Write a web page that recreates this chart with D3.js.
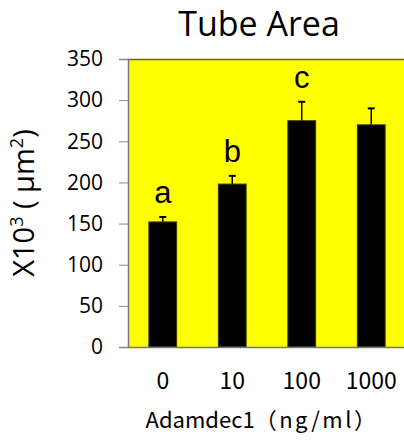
<!DOCTYPE html>
<html>
<head>
<meta charset="utf-8">
<script src="https://cdn.jsdelivr.net/npm/d3@7"></script>
<style>
  body { margin: 0; background: #fff; }
  svg { display: block; }
</style>
</head>
<body>
<div id="chart"></div>
<script>
// values
var doses = ["0", "10", "100", "1000"];
var means = [152, 198, 275, 270];
var errs = [6, 10, 23, 20];
var letters = ["a", "b", "c", ""];
var yTicks = [0, 50, 100, 150, 200, 250, 300, 350];

var W = 404, H = 441;
var margin = {top: 59, right: -2, bottom: 94, left: 128};
var width = W - margin.left - margin.right;
var height = H - margin.top - margin.bottom;

var svg = d3.select("#chart").append("svg")
    .attr("width", W)
    .attr("height", H);

var g = svg.append("g")
    .attr("transform", "translate(" + margin.left + "," + margin.top + ")");

var x = d3.scaleBand().domain(doses).range([0, width])
    .paddingInner(0.6).paddingOuter(0.3);
var y = d3.scaleLinear().domain([0, 350]).range([height, 0]);

// yellow plot area
g.append("rect")
    .attr("width", width)
    .attr("height", height)
    .attr("fill", "#ffff00");
g.append("line")
    .attr("x1", 0).attr("x2", width)
    .attr("y1", 0.5).attr("y2", 0.5)
    .attr("stroke", "#6b6b00")
    .attr("stroke-width", 1.5);

// error bars
var eb = g.append("g").selectAll("g")
    .data(doses)
    .enter().append("g");
eb.append("line")
    .attr("x1", function(d) { return x(d) + x.bandwidth() / 2; })
    .attr("x2", function(d) { return x(d) + x.bandwidth() / 2; })
    .attr("y1", function(d, i) { return y(means[i]); })
    .attr("y2", function(d, i) { return y(means[i] + errs[i]); })
    .attr("stroke", "#000").attr("stroke-width", 1.5);
eb.append("line")
    .attr("x1", function(d) { return x(d) + x.bandwidth() / 2 - 3.5; })
    .attr("x2", function(d) { return x(d) + x.bandwidth() / 2 + 3.5; })
    .attr("y1", function(d, i) { return y(means[i] + errs[i]); })
    .attr("y2", function(d, i) { return y(means[i] + errs[i]); })
    .attr("stroke", "#000").attr("stroke-width", 2);

// bars
g.append("g").selectAll("rect")
    .data(doses)
    .enter().append("rect")
    .attr("x", function(d) { return x(d); })
    .attr("y", function(d, i) { return y(means[i]); })
    .attr("width", x.bandwidth())
    .attr("height", function(d, i) { return height - y(means[i]); })
    .attr("fill", "#000")
    .attr("stroke", "#3a3a00")
    .attr("stroke-width", 1);

// significance letters
g.append("g").selectAll("text")
    .data(doses)
    .enter().append("text")
    .attr("x", function(d) { return x(d) + x.bandwidth() / 2; })
    .attr("y", function(d, i) { return y(means[i] + errs[i]) - 14; })
    .attr("text-anchor", "middle")
    .style("font-family", "Liberation Sans, Arial, sans-serif")
    .style("font-size", "31px")
    .text(function(d, i) { return letters[i]; });

// y axis
var yAxis = g.append("g")
    .call(d3.axisLeft(y).tickValues(yTicks).tickSize(9).tickPadding(16));
yAxis.select(".domain").attr("stroke", "#777").attr("stroke-width", 1.5);
yAxis.selectAll(".tick line").attr("stroke", "#888");
yAxis.selectAll("text")
    .style("font-family", "Open Sans, sans-serif")
    .style("font-size", "21px")
    .attr("fill", "#000");

// x axis
var xAxis = g.append("g")
    .attr("transform", "translate(0," + height + ")")
    .call(d3.axisBottom(x).tickSize(0).tickPadding(26));
xAxis.select(".domain").attr("stroke", "#777").attr("stroke-width", 1.5);
xAxis.selectAll("text")
    .style("font-family", "Noto Sans CJK JP, sans-serif")
    .style("font-size", "23px")
    .attr("fill", "#000");

// title and axis titles
svg.append("text")
    .attr("x", 259).attr("y", 36)
    .attr("text-anchor", "middle")
    .style("font-family", "Open Sans, sans-serif")
    .style("font-size", "34px")
    .text("Tube Area");

var xl = svg.append("text")
    .attr("x", 262).attr("y", 428)
    .attr("text-anchor", "middle")
    .style("font-family", "Noto Sans CJK JP, sans-serif")
    .style("font-size", "22px");
xl.append("tspan").text("Adamdec1");
xl.append("tspan").style("letter-spacing", "2.5px").text("\uff08ng/ml\uff09");

var yl = svg.append("text")
    .attr("transform", "translate(34," + (margin.top + height / 2) + ") rotate(-90)")
    .attr("text-anchor", "middle")
    .style("font-family", "Open Sans, sans-serif")
    .style("font-size", "29px");
yl.append("tspan").text("X10");
yl.append("tspan").attr("dy", -11).style("font-size", "18px").text("3");
yl.append("tspan").attr("dy", 11).text(" ( \u03bcm");
yl.append("tspan").attr("dy", -11).style("font-size", "18px").text("2");
yl.append("tspan").attr("dy", 11).text(")");
</script>
</body>
</html>
